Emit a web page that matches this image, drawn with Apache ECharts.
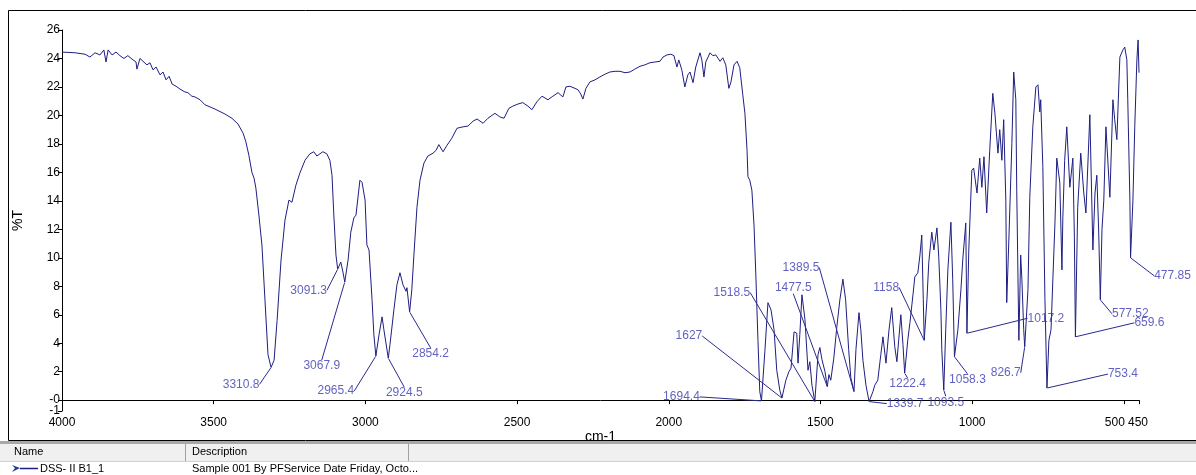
<!DOCTYPE html>
<html><head><meta charset="utf-8">
<script src="https://cdn.jsdelivr.net/npm/echarts@6/dist/echarts.min.js"></script>
<style>html,body{margin:0;padding:0;background:#fff;overflow:hidden}#c{width:1196px;height:475px}</style>
</head><body><div id="c"></div>
<script>
// ---- spectrum (wavenumber cm-1, %T) ----
const wavenumber = [4000,3957,3924,3908,3891,3875,3862,3855,3848,3835,3822,3809,3796,3783,3769,3756,3753,3743,3733,3720,3710,3700,3690,3677,3667,3657,3647,3637,3624,3611,3595,3585,3572,3562,3545,3529,3496,3463,3440,3420,3403,3394,3384,3374,3367,3361,3351,3341,3331,3321,3310.8,3301,3291,3278,3265,3252,3242,3229,3216,3199,3183,3170,3160,3150,3140,3127,3117,3110,3104,3097,3091.3,3081,3074,3067.9,3057,3048,3038,3031,3018,3011,3001,2995,2988,2978,2972,2965.4,2955,2945,2939,2924.5,2919,2906,2896,2886,2876,2866,2863,2854.2,2847,2840,2830,2820,2807,2794,2777,2767,2758,2744,2731,2715,2698,2678,2662,2645,2632,2612,2596,2573,2557,2543,2527,2514,2497,2481,2464,2451,2435,2418,2398,2382,2365,2359,2349,2339,2326,2309,2299,2290,2283,2273,2260,2243,2227,2210,2194,2177,2161,2144,2128,2112,2095,2079,2062,2046,2029,2019,2006,1993,1983,1973,1967,1957,1947,1937,1930,1920,1911,1897,1891,1884,1878,1864,1855,1845,1831,1822,1812,1802,1795,1785,1775,1766,1756,1749,1742,1739,1733,1726,1719,1713,1706,1700,1694.4,1683,1673,1663,1653,1644,1634,1627,1614,1604,1597,1587,1578,1574,1568,1561,1551,1541,1535,1528,1518.5,1508,1502,1495,1485,1477.5,1472,1466,1456,1446,1436,1426,1417,1407,1400,1389.5,1383,1373,1367,1360,1350,1339.7,1327,1321,1311,1301,1294,1284,1274,1265,1255,1248,1242,1235,1228,1222.4,1212,1205,1195,1189,1179,1172,1166,1161,1158,1149,1143,1133,1126,1116,1110,1103,1100,1093.5,1087,1080,1070,1064,1058.3,1047,1037,1031,1021,1017.2,1011,1001,995,984,975,968,961,952,942,932,925,915,909,902,896,889,886,879,869,863,856,853,846,840,836,830,826.7,816,810,800,790,783,777,774,767,760,753.4,747,740,734,727,721,711,704,701,695,688,678,668,663,659.6,652,642,632,625,612,602,595,589,583,577.52,572,566,559,546,536,530,523,513,503,497,490,487,480,477.85,470,464,457,453,450];
const transmittance = [24.45,24.4,24.3,24.1,24.4,24.25,24.6,23.75,24.6,24.25,24.45,24.2,24.0,24.2,23.95,23.75,23.25,24.0,23.8,23.55,23.7,23.2,23.4,22.85,23.05,22.5,22.75,22.2,22.05,21.85,21.65,21.6,21.35,21.3,21.1,20.75,20.45,20.1,19.8,19.4,18.75,18.15,17.2,16.0,15.6,14.9,13.0,10.9,7.05,3.2,2.3,2.8,5.6,9.85,12.65,14.05,13.9,15.1,15.95,16.85,17.3,17.45,17.15,17.3,17.45,17.3,16.85,15.8,13.0,10.2,9.2,9.7,9.0,8.3,9.85,11.8,12.8,13.0,15.45,15.3,14.05,10.9,10.55,7.05,4.6,3.1,4.6,5.85,4.95,2.95,3.9,6.35,8.1,8.95,8.1,7.65,7.9,6.2,7.75,10.2,13.55,15.45,16.65,17.15,17.35,17.55,17.95,17.45,17.9,18.4,19.1,19.2,19.25,19.6,19.75,19.45,19.8,20.15,19.9,19.8,20.5,20.65,20.8,20.9,20.65,20.4,20.95,21.35,21.1,21.35,21.6,21.7,21.3,22.0,22.05,21.9,21.8,21.5,21.15,21.9,22.35,22.5,22.7,22.9,23.05,23.1,23.1,23.0,23.05,23.25,23.45,23.55,23.7,23.75,23.8,24.1,24.25,24.3,24.2,23.4,23.9,23.2,22.0,22.85,23.05,22.3,23.4,24.4,23.9,22.7,23.75,24.4,24.2,24.25,23.8,24.05,23.55,21.9,22.35,23.55,23.8,23.35,21.45,20.15,17.55,15.7,15.45,14.75,12.3,8.8,4.2,0.6,-0.05,3.5,6.85,6.35,4.95,2.1,0.7,0.15,1.4,2.0,2.25,4.8,4.7,2.6,4.6,7.4,5.65,2.1,2.7,1.05,-0.1,3.2,3.7,2.85,2.0,0.95,1.8,1.4,2.95,5.15,7.05,8.5,7.05,3.55,1.6,0.6,3.55,6.15,4.95,2.8,1.05,-0.1,0.6,1.05,1.4,3.2,4.45,2.6,4.95,6.5,3.75,2.7,4.25,6.0,3.9,1.9,4.25,5.45,7.4,8.65,8.95,10.2,11.6,7.05,4.2,7.05,9.65,11.8,10.55,12.1,10.05,6.35,3.55,0.7,4.95,9.15,12.5,8.45,3.05,4.95,7.75,9.85,12.45,4.7,10.55,16.15,16.3,14.55,17.0,14.95,17.1,13.15,17.55,21.55,20.15,17.35,19.0,16.85,19.7,14.05,6.85,11.25,18.05,23.05,21.1,14.75,4.2,10.2,8.45,4.95,3.75,7.75,14.25,19.2,22.0,22.15,20.25,21.1,16.4,7.05,0.85,4.2,4.95,8.45,12.45,17.0,15.25,9.15,12.85,16.85,19.2,14.95,17.0,11.45,4.45,13.55,17.35,14.55,13.15,20.05,10.55,14.55,15.8,11.95,7.05,12.0,14.05,19.2,14.25,21.1,19.7,18.3,24.1,24.6,24.8,23.9,21.1,14.05,10.0,14.05,19.2,23.9,25.3,23.0];

// ---- labelled peaks ----
const peakWavenumber = [3310.8,3091.3,3067.9,2965.4,2924.5,2854.2,1694.4,1627,1518.5,1477.5,1389.5,1339.7,1222.4,1158,1093.5,1058.3,1017.2,826.7,753.4,659.6,577.52,477.85];
const peakTransmittance = [2.3,9.2,8.3,3.1,2.95,6.2,-0.05,0.15,-0.1,0.95,0.6,-0.1,1.9,4.2,0.7,3.05,4.7,3.75,0.85,4.45,7.05,10.0];
const peakLabels = ['3310.8','3091.3','3067.9','2965.4','2924.5','2854.2','1694.4','1627','1518.5','1477.5','1389.5','1339.7','1222.4','1158','1093.5','1058.3','1017.2','826.7','753.4','659.6','577.52','477.85'];

// ---- axis ticks ----
const xTickValues = [4000,3500,3000,2500,2000,1500,1000,500,450];
const xTickLabels = ['4000','3500','3000','2500','2000','1500','1000','500','450'];
const yTickValues = [0,2,4,6,8,10,12,14,16,18,20,22,24,26];
const yTickLabels = ['-0','2','4','6','8','10','12','14','16','18','20','22','24','26'];
const yMinValue = -0.76;
const yMinLabel = '-1';

// label placement (pixel offsets from each peak) — layout only
const labelOffsets = [[-30,17],[-29,21],[-23,84],[-40,35],[16,35],[21,42],[-80,-4],[-93,-62],[-83,-109],[-34,-99],[-53,-124],[36,2],[3,11],[-38,-53],[2,12],[13,23],[79,-15],[-19,26],[76,-14],[74,-14],[30,14],[42,18]];

const spectrum = wavenumber.map((w, i) => [w, transmittance[i]]);
const peaks = peakWavenumber.map((w, i) => [w, peakTransmittance[i]]);

const FONT = '"Liberation Sans", Arial, sans-serif';
const chart = echarts.init(document.getElementById('c'), null, {renderer: 'canvas'});
const yLabelBase = {fontFamily: FONT, fontSize: 12, color: '#000', margin: 2, hideOverlap: false};
chart.setOption({
  animation: false,
  backgroundColor: '#fff',
  grid: {left: 62, right: 57, top: 30, bottom: 64},
  xAxis: {
    type: 'value', inverse: true, min: 450, max: 4000,
    name: 'cm-1', nameLocation: 'middle', nameGap: 19, nameMoveOverlap: false,
    nameTextStyle: {fontFamily: FONT, fontSize: 14, color: '#000'},
    axisLine: {show: true, lineStyle: {color: '#000', width: 1}},
    axisTick: {show: true, length: 4, lineStyle: {color: '#000'}, customValues: xTickValues},
    axisLabel: {
      fontFamily: FONT, fontSize: 12, color: '#000', margin: 6, hideOverlap: false,
      customValues: xTickValues,
      formatter: v => {
        const s = xTickLabels[xTickValues.indexOf(v)];
        if (v === 500) return '{a|' + s + '}';
        if (v === 450) return '{b|' + s + '}';
        return s;
      },
      rich: {
        a: {fontFamily: FONT, fontSize: 12, color: '#000', padding: [0, 18, 0, 0]},
        b: {fontFamily: FONT, fontSize: 12, color: '#000', padding: [0, 2, 0, 0]}
      }
    },
    splitLine: {show: false}
  },
  yAxis: [
    {
      type: 'value', min: yMinValue, max: 26, position: 'left',
      name: '%T', nameLocation: 'middle', nameGap: 37, nameRotate: 90,
      nameTextStyle: {fontFamily: FONT, fontSize: 14, color: '#000'},
      axisLine: {show: true, lineStyle: {color: '#000', width: 1}},
      axisTick: {show: true, length: 4, lineStyle: {color: '#000'}, customValues: [yMinValue].concat(yTickValues)},
      axisLabel: Object.assign({}, yLabelBase, {
        customValues: yTickValues,
        formatter: v => {
          let best = 0;
          yTickValues.forEach((t, i) => { if (Math.abs(t - v) < Math.abs(yTickValues[best] - v)) best = i; });
          return yTickLabels[best];
        }
      }),
      splitLine: {show: false}
    },
    {
      type: 'value', min: yMinValue, max: 26, position: 'left', offset: 0,
      axisLine: {show: false}, axisTick: {show: false}, splitLine: {show: false},
      axisLabel: Object.assign({}, yLabelBase, {
        customValues: [yMinValue], formatter: () => yMinLabel
      })
    }
  ],
  series: [
    {
      type: 'line', data: spectrum, showSymbol: false, symbol: 'none',
      lineStyle: {color: '#1e1e82', width: 1}, silent: true, z: 2
    },
    {
      type: 'scatter', data: peaks, symbolSize: 1,
      itemStyle: {color: 'rgba(0,0,0,0)'},
      label: {
        show: true, position: 'inside', fontFamily: FONT, fontSize: 12, color: '#3a3ab2',
        formatter: p => peakLabels[p.dataIndex]
      },
      labelLine: {show: true, lineStyle: {color: '#2a2a90', width: 1}},
      labelLayout: p => ({dx: labelOffsets[p.dataIndex][0], dy: labelOffsets[p.dataIndex][1]}),
      silent: true, z: 3
    }
  ],
  graphic: [
    {type: 'rect', shape: {x: 8.5, y: 10.5, width: 1200, height: 430}, style: {fill: 'none', stroke: '#000', lineWidth: 1}, silent: true},
    {type: 'rect', shape: {x: 0, y: 441, width: 1196, height: 3}, style: {fill: '#a8a8a8'}, silent: true},
    {type: 'rect', shape: {x: 0, y: 444, width: 1196, height: 17}, style: {fill: '#f0f0f0'}, silent: true},
    {type: 'rect', shape: {x: 0, y: 461, width: 1196, height: 1}, style: {fill: '#d0d0d0'}, silent: true},
    {type: 'rect', shape: {x: 185, y: 444, width: 1, height: 17}, style: {fill: '#a0a0a0'}, silent: true},
    {type: 'rect', shape: {x: 408, y: 444, width: 1, height: 17}, style: {fill: '#a0a0a0'}, silent: true},
    {type: 'text', x: 14, y: 452, style: {text: 'Name', fontFamily: FONT, fontSize: 11, fill: '#000', verticalAlign: 'middle'}, silent: true},
    {type: 'text', x: 192, y: 452, style: {text: 'Description', fontFamily: FONT, fontSize: 11, fill: '#000', verticalAlign: 'middle'}, silent: true},
    {type: 'polygon', shape: {points: [[12, 465], [20, 468], [12, 472], [15, 468]]}, style: {fill: '#1e3aa0'}, silent: true},
    {type: 'line', shape: {x1: 20, y1: 468.5, x2: 38, y2: 468.5}, style: {stroke: '#1e1e82', lineWidth: 1.5}, silent: true},
    {type: 'text', x: 40, y: 469, style: {text: 'DSS- II B1_1', fontFamily: FONT, fontSize: 11, fill: '#000', verticalAlign: 'middle'}, silent: true},
    {type: 'text', x: 192, y: 469, style: {text: 'Sample 001 By PFService Date Friday, Octo...', fontFamily: FONT, fontSize: 11, fill: '#000', verticalAlign: 'middle'}, silent: true}
  ]
});
</script>
</body></html>
